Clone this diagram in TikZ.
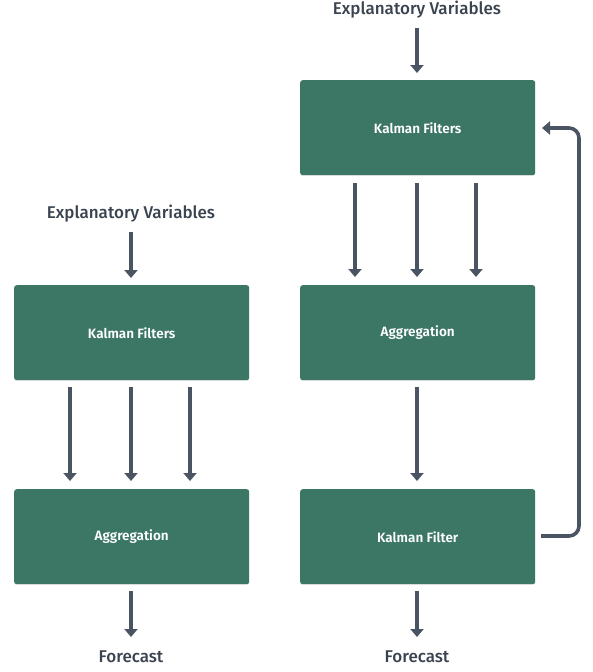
\documentclass[tikz,border=0pt]{standalone}
\usepackage{fontspec}
\setmainfont{Fira Sans}
\newfontfamily\medfont{Fira Sans Medium}
\newfontfamily\semifont{Fira Sans SemiBold}
\usetikzlibrary{arrows.meta,shadows}
\definecolor{boxgreen}{HTML}{3C7766}
\definecolor{arrowgray}{HTML}{4A5462}
\definecolor{labelgray}{HTML}{3A4350}
\tikzset{
  procbox/.style={draw=none, fill=boxgreen, rounded corners=2.5pt, minimum width=235pt, minimum height=95pt,
    text=white, font=\fontsize{13.5}{16}\semifont, anchor=north west,
    drop shadow={shadow xshift=0pt, shadow yshift=-1pt, opacity=0.15}},
  outlabel/.style={text=labelgray, font=\fontsize{17}{20}\medfont},
  flow/.style={draw=arrowgray, line width=3.6pt, -{Triangle[length=8pt,width=13pt]}},
}
\begin{document}
\begin{tikzpicture}[x=1pt,y=-1pt]
\useasboundingbox (0,0) rectangle (593,672);
% right column
\node[outlabel] (ev2) at (417,10) {Explanatory Variables};
\node[procbox] (kf2) at (300,80) {Kalman Filters};
\node[procbox] (ag2) at (300,285) {Aggregation};
\node[procbox] (kf3) at (300,489) {Kalman Filter};
\node[outlabel] (fc2) at (417,657) {Forecast};
% left column
\node[outlabel] (ev1) at (131,214) {Explanatory Variables};
\node[procbox] (kf1) at (14,285) {Kalman Filters};
\node[procbox] (ag1) at (14,489) {Aggregation};
\node[outlabel] (fc1) at (131,657) {Forecast};
% arrows right
\draw[flow] (417,28) -- (417,73);
\foreach \xx in {355,417,476}{
  \draw[flow] (\xx,183) -- (\xx,277);
}
\draw[flow] (417,387) -- (417,481);
\draw[flow] (417,591) -- (417,637);
% arrows left
\draw[flow] (131,232) -- (131,278);
\foreach \xx in {70,131,190}{
  \draw[flow] (\xx,387) -- (\xx,481);
}
\draw[flow] (131,591) -- (131,637);
% feedback
\coordinate (fbA) at (541,536);
\coordinate (fbB) at (579,536);
\coordinate (fbC) at (579,128);
\coordinate (fbD) at (542,128);
\draw[flow, rounded corners=10pt] (fbA) -- (fbB) -- (fbC) -- (fbD);
\end{tikzpicture}
\end{document}
